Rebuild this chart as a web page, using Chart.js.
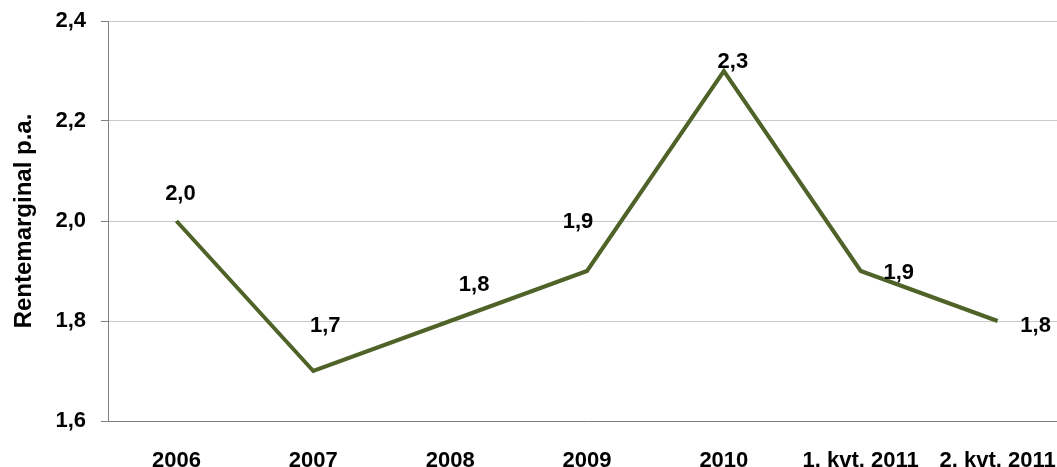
<!DOCTYPE html>
<html>
<head>
<meta charset="utf-8">
<script src="https://cdn.jsdelivr.net/npm/chart.js@4"></script>
<style>
  html, body { margin: 0; padding: 0; background: #fff; overflow: hidden; }
  #wrap { position: absolute; left: 0; top: 0; width: 1066px; height: 467px; }
</style>
</head>
<body>
<div id="wrap"><canvas id="grafMargin" width="1066" height="467"></canvas></div>
<script>
const perioder = ['2006', '2007', '2008', '2009', '2010', '1. kvt. 2011', '2. kvt. 2011'];
const rentemarginal = [2.0, 1.7, 1.8, 1.9, 2.3, 1.9, 1.8];
const yTicks = [1.6, 1.8, 2.0, 2.2, 2.4];

// label placement relative to each point (px)
const labelOffset = [[4, -27], [12, -45], [24, -36], [-9, -49], [9, -9], [38, 2], [38, 5]];

const komma = v => v.toFixed(1).replace('.', ',');
const fed = { family: 'Liberation Sans, Arial, sans-serif', size: 22, weight: 'bold' };

const vaerdiLabels = {
  id: 'vaerdiLabels',
  afterDatasetsDraw(chart) {
    const ctx = chart.ctx;
    const meta = chart.getDatasetMeta(0);
    ctx.save();
    ctx.font = 'bold 22px "Liberation Sans", Arial, sans-serif';
    ctx.fillStyle = '#000';
    ctx.textAlign = 'center';
    ctx.textBaseline = 'middle';
    meta.data.forEach((pt, i) => {
      const off = labelOffset[i];
      ctx.fillText(komma(rentemarginal[i]), pt.x + off[0], pt.y + off[1]);
    });
    ctx.restore();
  }
};

// keep the plot area fixed: no extra room for overhanging tick labels
const nulPadding = s => { s.paddingLeft = 0; s.paddingRight = 0; s.paddingTop = 0; s.paddingBottom = 0; };

new Chart(document.getElementById('grafMargin'), {
  type: 'line',
  data: {
    labels: perioder,
    datasets: [{
      label: 'Rentemarginal p.a.',
      data: rentemarginal,
      borderColor: '#4f6228',
      borderWidth: 4,
      pointRadius: 0,
      tension: 0,
      fill: false
    }]
  },
  options: {
    responsive: false,
    animation: false,
    layout: { padding: { top: 21, right: 0, bottom: 0, left: 0 } },
    plugins: {
      legend: { display: false },
      tooltip: { enabled: false }
    },
    scales: {
      x: {
        offset: true,
        grid: { display: false, drawTicks: false },
        border: { display: true, color: '#808080', width: 1 },
        ticks: { color: '#000', font: fed, padding: 27, maxRotation: 0, autoSkip: false },
        afterFit: s => { s.height = 46; nulPadding(s); }
      },
      y: {
        min: 1.6,
        max: 2.4,
        afterBuildTicks: s => { s.ticks = yTicks.map(v => ({ value: v })); },
        grid: { color: '#c8c8c8', tickColor: '#808080', tickLength: 7, lineWidth: 1 },
        border: { display: true, color: '#808080', width: 1 },
        ticks: { color: '#000', font: fed, padding: 15, callback: v => komma(v) },
        title: {
          display: true,
          text: 'Rentemarginal p.a.',
          color: '#000',
          font: { family: 'Liberation Sans, Arial, sans-serif', size: 24, weight: 'bold' },
          padding: { top: 10, bottom: 0 }
        },
        afterFit: s => { s.width = 108; nulPadding(s); }
      }
    }
  },
  plugins: [vaerdiLabels]
});
</script>
</body>
</html>
